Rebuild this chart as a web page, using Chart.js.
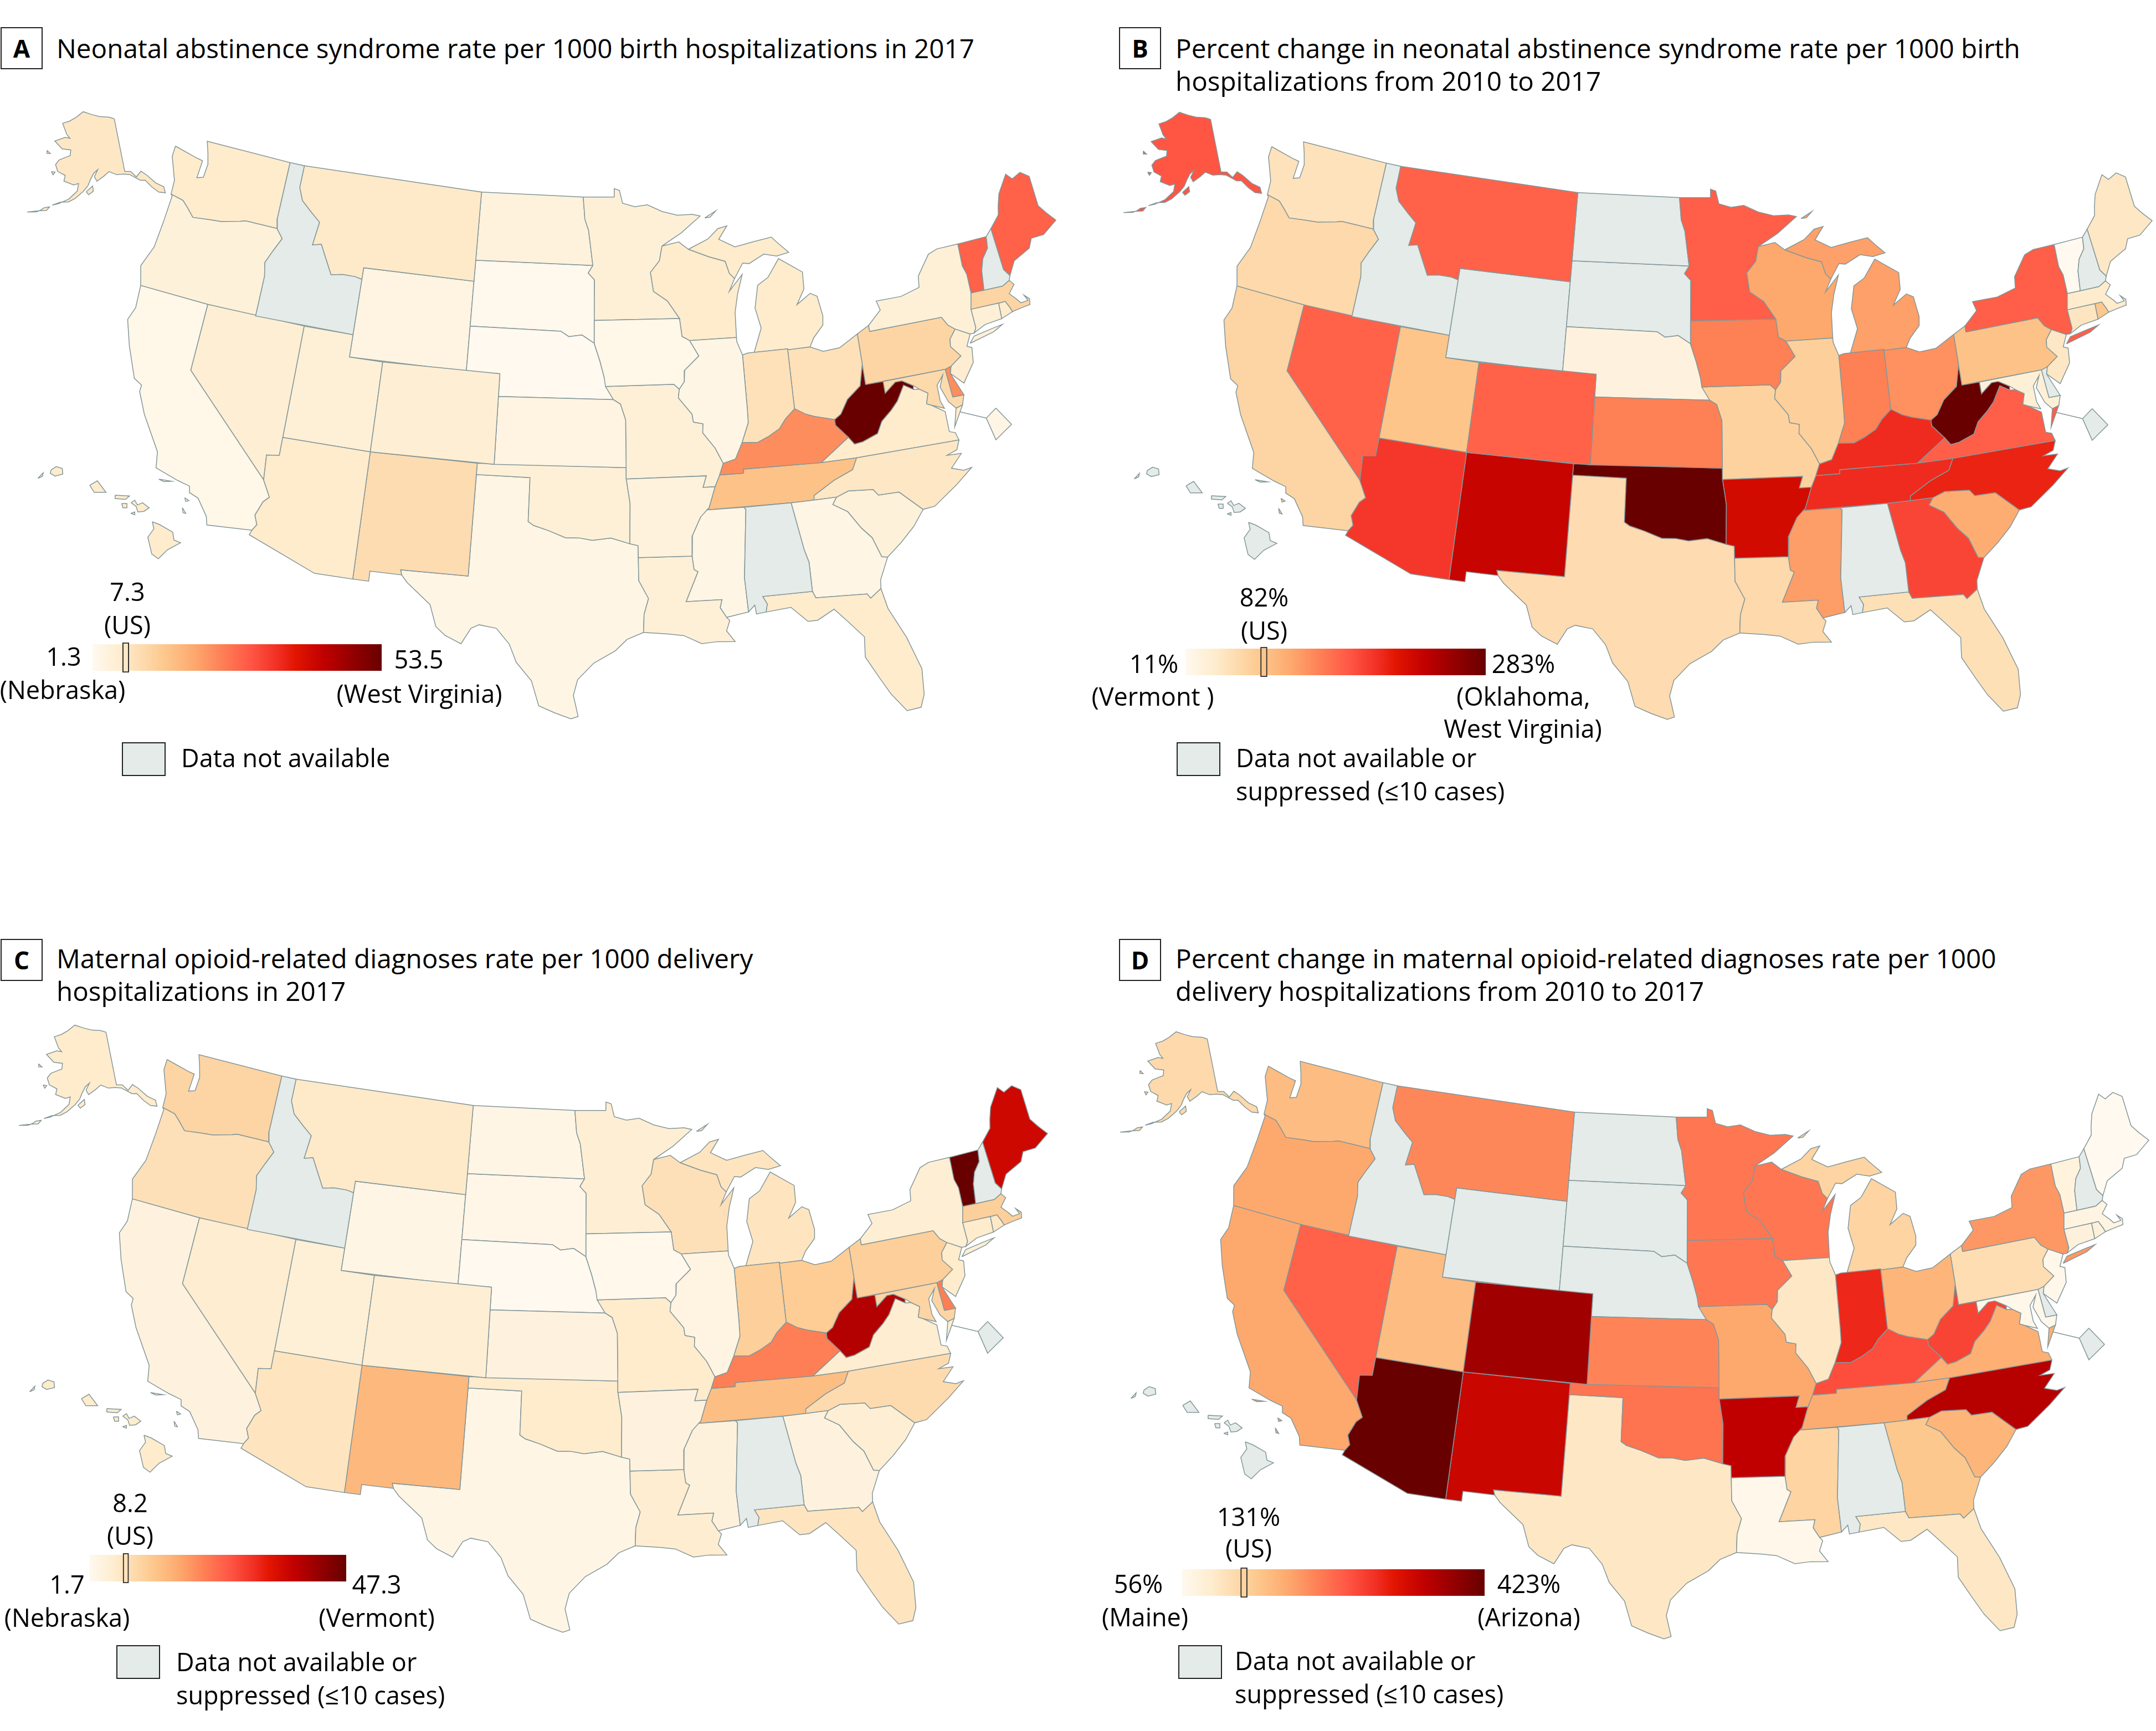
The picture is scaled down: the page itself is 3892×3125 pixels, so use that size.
<!DOCTYPE html>
<html>
<head>
<meta charset="utf-8">
<title>Neonatal abstinence syndrome and maternal opioid-related diagnoses</title>
<script src="https://cdn.jsdelivr.net/npm/chart.js@4/dist/chart.umd.min.js"></script>
<style>
  html, body { margin: 0; padding: 0; background: #fff; }
  #page { position: relative; width: 3892px; height: 3125px; overflow: hidden; font-family: "Open Sans", sans-serif; color: #000; }
  #page canvas { position: absolute; }
  .t { position: absolute; font-size: 45px; line-height: 60px; white-space: nowrap; }
  .h { font-size: 47.6px; }
  .c { transform: translateX(-50%); }
  .tag { position: absolute; width: 72px; height: 72px; border: 2px solid #222; font-weight: 700; font-size: 44px; line-height: 72px; text-align: center; background: #fff; }
  .na { position: absolute; width: 75px; height: 57px; border: 2px solid #222; background: #e4ebe8; }
</style>
</head>
<body>
<div id="page"></div>
<script>
// state order used by all four value lists
const states = ["Alabama","Alaska","Arizona","Arkansas","California","Colorado","Connecticut","Delaware","District of Columbia","Florida","Georgia","Hawaii","Idaho","Illinois","Indiana","Iowa","Kansas","Kentucky","Louisiana","Maine","Maryland","Massachusetts","Michigan","Minnesota","Mississippi","Missouri","Montana","Nebraska","Nevada","New Hampshire","New Jersey","New Mexico","New York","North Carolina","North Dakota","Ohio","Oklahoma","Oregon","Pennsylvania","Rhode Island","South Carolina","South Dakota","Tennessee","Texas","Utah","Vermont","Virginia","Washington","West Virginia","Wisconsin","Wyoming"];

// values read from the colours, null = grey (not available / suppressed)
const nasRate2017 = [null,7.5,6.5,4,2.3,5.5,5,23,3,6.5,3,6.5,null,2.8,9,2.3,3.4,23,5,28.5,10.5,11.5,6.5,5,3,5,7,1.3,5.5,null,6,10,5,7.5,4,9,5,4.5,11.5,6.5,4.5,1.8,15.4,3,5,28.5,6.5,6.5,53.5,6.5,3.4];
const nasChange = [null,160,180,215,65,152,46,null,null,52,171,null,null,71,133,133,133,188,60,44,30,38,112,155,114,68,152,25,152,null,44,223,155,193,null,122,283,60,84,79,103,null,188,57,82,11,155,49,283,106,null];
const momRate2017 = [null,6.3,7.6,4,4,5.3,6.3,22.2,null,7.6,4,6.3,null,3.5,11.7,2.2,4,22.2,5.8,36.4,10.8,11.7,7.6,5.3,4.4,6.3,6.7,1.7,5.8,null,6.3,15.4,5.3,9.5,3,12.2,6.3,8.5,11.7,7,5.3,2.6,14.5,3,4.9,47.3,5.8,10.8,39.5,8.5,3];
const momChange = [null,122,423,350,184,375,78,null,null,100,148,null,null,100,298,228,217,265,63,56,63,71,130,228,130,184,214,null,247,null,63,339,199,357,null,170,232,184,115,78,170,null,181,100,162,74,177,162,273,228,null];

// colour scale, position 0..1 along the legend bar
const rampStops = [0,0.1,0.25,0.35,0.45,0.55,0.65,0.7,0.8,0.9,1];
const rampColors = [[255,249,239],[254,236,205],[253,200,141],[253,169,110],[254,127,85],[255,85,68],[239,43,31],[226,21,0],[192,0,0],[147,0,0],[104,0,0]];
const naColor = "#e4ebe8";
const lineColor = "#84979a";

// state outlines, longitude / latitude
const shapes = {
  Washington: [[[-124.7,48.38],[-123.15,48.15],[-122.7,48.1],[-122.75,47.3],[-122.35,47.4],[-122.3,48],[-122.5,48.5],[-122.76,49],[-117.03,49],[-117.04,46.42],[-116.92,45.99],[-118.98,46],[-119.3,45.93],[-120.5,45.7],[-121.2,45.65],[-122.3,45.55],[-122.8,45.9],[-123.2,46.15],[-124.05,46.27],[-124.1,46.9],[-124.7,47.9]]],
  Oregon: [[[-124.05,46.27],[-123.2,46.15],[-122.8,45.9],[-122.3,45.55],[-121.2,45.65],[-120.5,45.7],[-119.3,45.93],[-118.98,46],[-116.92,45.99],[-116.46,45.6],[-116.85,45],[-117.2,44.4],[-117.03,43.8],[-117.03,42],[-120,42],[-124.2,42],[-124.55,42.84],[-124.1,43.8],[-124,45],[-123.95,46.2]]],
  California: [
    [[-124.2,42],[-120,42],[-120,39],[-114.63,35],[-114.14,34.3],[-114.43,34.05],[-114.72,33.4],[-114.52,33],[-114.72,32.72],[-117.12,32.53],[-117.25,32.9],[-117.9,33.6],[-118.4,33.75],[-118.5,34.03],[-119.2,34.15],[-120.5,34.45],[-120.65,35.15],[-121.9,36.6],[-122.5,37.5],[-122.5,37.8],[-123,38],[-123.8,39.3],[-124.35,40.4],[-124.1,41]],
    [[-120.2,34],[-119.5,34.05],[-119.9,33.95]],
    [[-118.6,33.48],[-118.35,33.4],[-118.5,33.33]],
    [[-118.6,33.03],[-118.35,32.82],[-118.5,32.82]]
  ],
  Nevada: [[[-120,42],[-114.04,42],[-114.04,36.2],[-114.74,36.1],[-114.63,35],[-120,39]]],
  Idaho: [[[-117.03,49],[-116.05,49],[-116.05,48],[-115.7,47.45],[-114.95,47],[-114.33,46.65],[-114.5,45.6],[-113.95,45.7],[-113.45,45.05],[-113,44.45],[-112.3,44.55],[-111.5,44.55],[-111.05,44.48],[-111.05,42],[-117.03,42],[-117.03,43.8],[-117.2,44.4],[-116.85,45],[-116.46,45.6],[-116.92,45.99],[-117.04,46.42]]],
  Montana: [[[-116.05,49],[-104.05,49],[-104.05,45],[-111.05,45],[-111.05,44.48],[-111.5,44.55],[-112.3,44.55],[-113,44.45],[-113.45,45.05],[-113.95,45.7],[-114.5,45.6],[-114.33,46.65],[-114.95,47],[-115.7,47.45],[-116.05,48]]],
  Wyoming: [[[-111.05,45],[-104.05,45],[-104.05,41],[-111.05,41]]],
  Utah: [[[-114.04,42],[-111.05,42],[-111.05,41],[-109.05,41],[-109.05,37],[-114.04,37]]],
  Colorado: [[[-109.05,41],[-102.05,41],[-102.05,37],[-109.05,37]]],
  Arizona: [[[-114.04,37],[-109.05,37],[-109.05,31.33],[-111.07,31.33],[-114.81,32.5],[-114.72,32.72],[-114.52,33],[-114.72,33.4],[-114.43,34.05],[-114.14,34.3],[-114.63,35],[-114.74,36.1],[-114.04,36.2]]],
  "New Mexico": [[[-109.05,37],[-103,37],[-103.04,32],[-106.62,32],[-106.53,31.78],[-108.21,31.78],[-108.21,31.33],[-109.05,31.33]]],
  "North Dakota": [[[-104.05,49],[-97.23,49],[-97.1,48],[-96.85,47.5],[-96.56,45.94],[-104.05,45.94]]],
  "South Dakota": [[[-104.05,45.94],[-96.56,45.94],[-96.85,45.6],[-96.45,45.3],[-96.45,43.5],[-96.45,42.49],[-97.2,42.85],[-98,42.77],[-98.5,43],[-104.05,43]]],
  Nebraska: [[[-104.05,43],[-98.5,43],[-98,42.77],[-97.2,42.85],[-96.45,42.49],[-96.1,41.7],[-95.85,41],[-95.31,40],[-102.05,40],[-102.05,41],[-104.05,41]]],
  Kansas: [[[-102.05,40],[-95.31,40],[-94.9,39.8],[-94.61,39.1],[-94.62,37],[-102.05,37]]],
  Oklahoma: [[[-103,37],[-94.62,37],[-94.62,36.5],[-94.43,35.4],[-94.48,33.64],[-95.5,33.9],[-96.5,33.8],[-97.2,33.9],[-97.95,33.9],[-98.9,34.2],[-99.7,34.4],[-100,34.56],[-100,36.5],[-103,36.5]]],
  Texas: [[[-106.62,32],[-103.04,32],[-103,36.5],[-100,36.5],[-100,34.56],[-99.7,34.4],[-98.9,34.2],[-97.95,33.9],[-97.2,33.9],[-96.5,33.8],[-95.5,33.9],[-94.48,33.64],[-94.04,33.55],[-94.04,32],[-93.55,31.2],[-93.8,30.5],[-93.85,29.7],[-94.7,29.4],[-95.3,28.9],[-96.4,28.35],[-97.2,27.6],[-97.4,26.9],[-97.15,25.96],[-97.5,25.85],[-98.3,26.1],[-99.1,26.4],[-99.5,27.5],[-100.3,28.3],[-100.7,29.1],[-101.4,29.77],[-102.3,29.88],[-102.7,29.7],[-103.15,28.98],[-104,29.3],[-104.5,29.65],[-104.9,30.6],[-106.2,31.47],[-106.53,31.78]]],
  Minnesota: [[[-97.23,49],[-95.15,49],[-95.15,49.38],[-94.8,49.3],[-94.6,48.72],[-93.8,48.55],[-92.95,48.62],[-92,48.3],[-91,48.1],[-90,48.1],[-89.5,48],[-90.8,47.3],[-92.1,46.75],[-92.3,46.1],[-92.9,45.6],[-92.75,44.75],[-91.9,44.3],[-91.2,43.5],[-96.45,43.5],[-96.45,45.3],[-96.85,45.6],[-96.56,45.94],[-96.85,47.5],[-97.1,48]]],
  Iowa: [[[-96.45,43.5],[-91.2,43.5],[-91.1,42.7],[-90.65,42.5],[-90.15,41.8],[-91.05,41.2],[-91.1,40.7],[-91.42,40.38],[-91.73,40.61],[-95.77,40.58],[-95.85,41],[-96.1,41.7],[-96.45,42.49]]],
  Missouri: [[[-95.77,40.58],[-91.73,40.61],[-91.42,40.38],[-91.5,40],[-90.75,39.25],[-90.7,38.9],[-90.15,38.8],[-90.2,38.4],[-89.55,37.7],[-89.15,37],[-89.4,36.5],[-89.7,36],[-90.37,36],[-90.15,36.5],[-94.62,36.5],[-94.62,37],[-94.61,39.1],[-94.9,39.8],[-95.31,40]]],
  Arkansas: [[[-94.62,36.5],[-90.15,36.5],[-90.37,36],[-89.7,36],[-90.1,35.1],[-90.6,34.7],[-91.1,33.9],[-91.17,33],[-94.04,33.02],[-94.04,33.55],[-94.48,33.64],[-94.43,35.4]]],
  Louisiana: [[[-94.04,33.02],[-91.17,33],[-91.1,32.4],[-90.9,32.3],[-91.6,31],[-89.73,31],[-89.85,30.65],[-89.55,30.2],[-89.4,30.05],[-89.6,29.6],[-89.2,29.1],[-90.1,29.15],[-90.9,29.1],[-91.8,29.5],[-92.6,29.6],[-93.85,29.7],[-93.8,30.5],[-93.55,31.2],[-94.04,32]]],
  Mississippi: [[[-90.3,35],[-88.2,35],[-88.1,34.9],[-88.47,31.9],[-88.4,30.37],[-89.55,30.2],[-89.85,30.65],[-89.73,31],[-91.6,31],[-90.9,32.3],[-91.1,32.4],[-91.17,33],[-91.1,33.9],[-90.6,34.7]]],
  Alabama: [[[-88.2,35],[-85.6,35],[-85.18,32.87],[-85,32.3],[-85,31],[-87.6,31],[-87.4,30.65],[-87.5,30.3],[-88,30.25],[-88.05,30.65],[-88.4,30.37],[-88.47,31.9],[-88.1,34.9]]],
  Tennessee: [[[-90.3,35],[-90.1,35.1],[-89.7,36],[-89.4,36.5],[-88.07,36.5],[-88.05,36.68],[-83.68,36.6],[-81.68,36.59],[-82,36.1],[-83.1,35.75],[-84.3,35.2],[-84.32,35],[-85.6,35]]],
  Kentucky: [[[-89.4,36.5],[-89.15,37],[-88.45,37.15],[-88,37.85],[-87.1,37.8],[-86.5,38],[-85.8,38.3],[-85.4,38.7],[-84.8,39.1],[-84.2,38.8],[-83.7,38.65],[-82.6,38.4],[-82.6,38.15],[-81.97,37.54],[-83.68,36.6],[-88.05,36.68],[-88.07,36.5]]],
  Illinois: [[[-87.8,42.49],[-90.65,42.5],[-90.15,41.8],[-91.05,41.2],[-91.1,40.7],[-91.42,40.38],[-91.5,40],[-90.75,39.25],[-90.7,38.9],[-90.15,38.8],[-90.2,38.4],[-89.55,37.7],[-89.15,37],[-88.45,37.15],[-88,37.85],[-87.55,38.7],[-87.53,39.35],[-87.53,41.7],[-87.8,42.3]]],
  Indiana: [[[-87.53,41.7],[-87.2,41.76],[-84.8,41.76],[-84.81,39.1],[-85.4,38.7],[-85.8,38.3],[-86.5,38],[-87.1,37.8],[-88,37.85],[-87.55,38.7],[-87.53,39.35]]],
  Ohio: [[[-84.8,41.72],[-83.45,41.72],[-82.7,41.45],[-81.7,41.5],[-80.52,41.98],[-80.52,40.64],[-80.85,39.7],[-81.7,39.2],[-82.2,38.6],[-82.6,38.4],[-83.7,38.65],[-84.2,38.8],[-84.81,39.1]]],
  Michigan: [
    [[-86.82,41.76],[-84.8,41.76],[-84.8,41.72],[-83.45,41.72],[-83.15,42.1],[-82.5,42.6],[-82.42,43],[-82.6,43.9],[-83,44.07],[-83.9,43.65],[-83.35,44.3],[-83.3,45.05],[-84.7,45.78],[-85.5,45],[-86.2,44.7],[-86.5,43.7],[-86.25,42.8]],
    [[-90.4,46.55],[-89.1,46.95],[-88.4,47.38],[-87.8,47.47],[-88.4,46.9],[-87.4,46.5],[-86.2,46.65],[-85,46.77],[-84.6,46.45],[-84,46],[-84.8,45.9],[-85.6,46.05],[-86.6,45.7],[-87,45.75],[-87.6,45.1],[-87.9,45.35],[-88.1,45.9],[-89.1,46.15]],
    [[-89.2,47.9],[-88.45,48.18],[-88.85,47.92]]
  ],
  Wisconsin: [[[-92.1,46.75],[-91,46.9],[-90.4,46.55],[-89.1,46.15],[-88.1,45.9],[-87.9,45.35],[-87.6,45.1],[-88,44.55],[-87.1,45.25],[-87.5,44.4],[-87.75,43.6],[-87.8,42.49],[-90.65,42.5],[-91.1,42.7],[-91.2,43.5],[-91.9,44.3],[-92.75,44.75],[-92.9,45.6],[-92.3,46.1]]],
  Pennsylvania: [[[-80.52,41.98],[-79.76,42.27],[-79.76,42],[-75.35,42],[-75.07,41.6],[-74.7,41.36],[-75.13,40.98],[-75.2,40.65],[-74.72,40.15],[-75.42,39.8],[-75.79,39.72],[-80.52,39.72]]],
  "New York": [
    [[-79.76,42],[-79.76,42.27],[-78.9,42.85],[-79.05,43.27],[-77.5,43.27],[-76.3,43.5],[-76.2,44],[-75.3,44.85],[-74.7,45],[-73.35,45],[-73.4,44],[-73.25,43.6],[-73.27,42.75],[-73.5,42.05],[-73.48,41.2],[-73.65,41],[-73.9,41],[-74.7,41.36],[-75.07,41.6],[-75.35,42]],
    [[-74.02,40.6],[-72.5,40.85],[-71.9,41.07],[-72.6,41],[-73.7,40.87]]
  ],
  Vermont: [[[-73.35,45],[-71.5,45.01],[-71.6,44.5],[-72.05,44.1],[-72.3,43.6],[-72.46,42.73],[-73.27,42.75],[-73.25,43.6],[-73.4,44]]],
  "New Hampshire": [[[-71.5,45.01],[-71.08,45.3],[-70.98,43.4],[-70.7,43.07],[-70.82,42.87],[-71.3,42.7],[-72.46,42.73],[-72.3,43.6],[-72.05,44.1],[-71.6,44.5]]],
  Maine: [[[-71.08,45.3],[-70.4,45.8],[-70.25,46.2],[-70,46.7],[-69.23,47.46],[-68.9,47.18],[-68.3,47.36],[-67.8,47.07],[-67.8,45.7],[-67.45,45.3],[-67,44.85],[-68,44.4],[-68.8,44.4],[-69.1,44],[-70.2,43.65],[-70.7,43.07],[-70.98,43.4]]],
  Massachusetts: [[[-73.5,42.05],[-73.27,42.75],[-72.46,42.73],[-71.3,42.7],[-70.82,42.87],[-70.6,42.65],[-71.03,42.3],[-70.65,41.95],[-70.5,41.78],[-70.05,41.8],[-70.2,42.07],[-69.93,41.85],[-70,41.6],[-70.65,41.55],[-71.12,41.5],[-71.2,41.7],[-71.38,42.02],[-71.8,42.02]]],
  "Rhode Island": [[[-71.8,42.02],[-71.38,42.02],[-71.2,41.7],[-71.12,41.5],[-71.85,41.32]]],
  Connecticut: [[[-73.5,42.05],[-71.8,42.02],[-71.85,41.32],[-72.9,41.25],[-73.65,41],[-73.48,41.2]]],
  "New Jersey": [[[-74.7,41.36],[-73.9,41],[-74.25,40.5],[-73.98,40.4],[-74.1,39.75],[-74.9,38.95],[-75.55,39.5],[-75.42,39.8],[-74.72,40.15],[-75.2,40.65],[-75.13,40.98]]],
  Delaware: [[[-75.79,39.72],[-75.42,39.8],[-75.55,39.5],[-75.05,38.45],[-75.7,38.46]]],
  Maryland: [[[-79.48,39.72],[-75.79,39.72],[-75.7,38.46],[-75.05,38.45],[-75.25,38.03],[-75.65,37.95],[-76,38.3],[-76.3,39],[-76,39.5],[-76.45,39.1],[-76.45,38.4],[-76.3,38.05],[-77,38.3],[-77.25,38.4],[-77.05,38.85],[-77.5,39.1],[-77.8,39.3],[-78.4,39.6],[-78.8,39.6],[-79.48,39.2]]],
  Virginia: [
    [[-83.68,36.6],[-81.97,37.54],[-81.68,37.2],[-81.2,37.25],[-80.3,37.5],[-79.95,38],[-79.3,38.42],[-78.87,38.76],[-78.35,39.4],[-77.83,39.13],[-77.5,39.1],[-77.05,38.85],[-77.25,38.4],[-77,38.3],[-76.3,37.9],[-76.3,37.5],[-76.3,37],[-75.98,36.9],[-75.87,36.55],[-81.68,36.59]],
    [[-75.65,37.95],[-75.25,38.03],[-75.95,37.15]]
  ],
  "West Virginia": [[[-80.52,40.64],[-80.52,39.72],[-79.48,39.72],[-79.48,39.2],[-78.8,39.6],[-78.4,39.6],[-77.8,39.3],[-77.83,39.13],[-78.35,39.4],[-78.87,38.76],[-79.3,38.42],[-79.95,38],[-80.3,37.5],[-81.2,37.25],[-81.68,37.2],[-81.97,37.54],[-82.6,38.15],[-82.6,38.4],[-82.2,38.6],[-81.7,39.2],[-80.85,39.7]]],
  "North Carolina": [[[-81.68,36.59],[-75.87,36.55],[-76.1,36.15],[-76.7,36],[-75.9,35.95],[-76.6,35.4],[-75.95,35.2],[-75.5,35.25],[-76.5,34.65],[-77.9,33.9],[-78.55,33.86],[-79.67,34.8],[-80.8,34.82],[-81.05,35.1],[-82.4,35.2],[-83.1,35],[-84.32,35],[-84.3,35.2],[-83.1,35.75],[-82,36.1]]],
  "South Carolina": [[[-83.1,35],[-82.4,35.2],[-81.05,35.1],[-80.8,34.82],[-79.67,34.8],[-78.55,33.86],[-79.2,33.2],[-80,32.6],[-80.85,32.05],[-81.15,32.1],[-81.5,33],[-82,33.5],[-82.6,34.3],[-83.35,34.7]]],
  Georgia: [[[-85.6,35],[-84.32,35],[-83.1,35],[-83.35,34.7],[-82.6,34.3],[-82,33.5],[-81.5,33],[-81.15,32.1],[-80.85,32.05],[-81.4,31.1],[-81.45,30.72],[-82.05,30.36],[-82.2,30.57],[-84.86,30.7],[-85,31],[-85,32.3],[-85.18,32.87]]],
  Florida: [[[-87.6,31],[-85,31],[-84.86,30.7],[-82.2,30.57],[-82.05,30.36],[-81.45,30.72],[-81.25,29.8],[-80.55,28.4],[-80.05,26.9],[-80.15,25.75],[-80.4,25.2],[-81.1,25.15],[-81.75,26],[-82.2,26.8],[-82.75,27.8],[-82.65,28.7],[-83.4,29.5],[-84,30.1],[-84.9,29.7],[-85.4,29.7],[-86.2,30.4],[-87.5,30.3],[-87.4,30.65]]]
};
const alaskaRings = [
  [[-141,69.65],[-143.5,70.1],[-148,70.4],[-152,70.85],[-156.6,71.35],[-160,70.3],[-163,69.5],[-166.2,68.9],[-163.5,67.1],[-161.9,66.5],[-164,66.55],[-168.1,65.6],[-164.5,64.5],[-161,64.5],[-161,63.5],[-163,63.05],[-165,62.5],[-166,61.6],[-164.8,60.5],[-162,60],[-162.2,59],[-158.8,58.5],[-157.2,58.8],[-157.5,57.5],[-160,56],[-163,55],[-164.8,54.6],[-162.5,55.3],[-160,55.5],[-158,56.2],[-155.5,57.5],[-154,58.5],[-153.2,59.5],[-152,60.6],[-150.5,61.2],[-151.8,60],[-151,59.2],[-148.5,60],[-146.5,60.7],[-144,60],[-141.5,59.9],[-139.5,59.6],[-136.5,58.2],[-135,58],[-133.5,56.5],[-132,55.3],[-130.2,54.8],[-130,55.9],[-132,57],[-134,58.8],[-135.5,59.7],[-137.5,58.95],[-139,60.1],[-141,60.3]],
  [[-154.6,57.4],[-152.5,58.4],[-152.3,57.5],[-153.8,56.9]],
  [[-170.3,63.7],[-168.8,63.3],[-170,63.2]],
  [[-167,60.3],[-165.7,60.3],[-166.2,59.8]],
  [[-167,53.9],[-165.5,54.2],[-166.2,53.5],[-168.3,53.2],[-171.5,52.5],[-169,52.9],[-168,53.3]]
];
const hawaiiRings = [
  [[-155.88,20.25],[-155.6,20.15],[-155.1,19.88],[-155.05,19.6],[-154.8,19.5],[-155.3,19.25],[-155.65,18.93],[-155.9,19.1],[-156.05,19.7],[-155.82,20]],
  [[-156.69,20.93],[-156.55,21.02],[-156.45,20.85],[-156.25,20.93],[-156,20.75],[-156.2,20.62],[-156.43,20.6],[-156.5,20.8]],
  [[-157.3,21.2],[-156.75,21.17],[-156.9,21.05],[-157.3,21.08]],
  [[-157.05,20.9],[-156.85,20.9],[-156.85,20.75],[-157,20.75]],
  [[-156.7,20.55],[-156.55,20.6],[-156.55,20.5]],
  [[-158.27,21.55],[-157.98,21.71],[-157.65,21.3],[-157.9,21.3],[-158.1,21.3]],
  [[-159.75,22.1],[-159.55,22.22],[-159.32,22.15],[-159.3,21.95],[-159.6,21.88],[-159.78,21.98]],
  [[-160.25,21.8],[-160.05,22],[-160.08,21.87]]
];
const dcRing = [[-77.04,38.995],[-76.91,38.89],[-77.04,38.79],[-77.12,38.93]];
const dcLeaderFrom = [-75.6,37.8];

// Albers conic, result in earth radii
function albersMaker(p1, p2, lon0, lat0) {
  const rad = Math.PI / 180;
  const n = (Math.sin(p1 * rad) + Math.sin(p2 * rad)) / 2;
  const C = Math.cos(p1 * rad) ** 2 + 2 * n * Math.sin(p1 * rad);
  const rho = lat => Math.sqrt(C - 2 * n * Math.sin(lat * rad)) / n;
  const rho0 = rho(lat0);
  return ([lon, lat]) => {
    const th = n * (lon - lon0) * rad;
    return { x: rho(lat) * Math.sin(th), y: rho0 - rho(lat) * Math.cos(th) };
  };
}
const usProj = albersMaker(29.5, 45.5, -96, 37.5);
const akProj = albersMaker(55, 65, -154, 50);
const mapScale = 2325; // px per earth radius on the mainland

function akPoint(pt) {
  const p = akProj(pt);
  return { x: (-927 + 595 * p.x) / mapScale, y: (401 + 595 * p.y) / mapScale };
}
function hiPoint([lon, lat]) {
  const k = 2900 * Math.PI / 180;
  return { x: (-864 + k * 0.933 * (lon + 157)) / mapScale, y: (-80 + k * (lat - 21)) / mapScale };
}
function dcPoint([lon, lat]) {
  const k = 16000 * Math.PI / 180;
  return { x: (714 + k * 0.777 * (lon + 77.03)) / mapScale, y: (58 + k * (lat - 38.89)) / mapScale };
}

function rampColor(t) {
  t = Math.max(0, Math.min(1, t));
  let i = 0;
  while (i < rampStops.length - 2 && t > rampStops[i + 1]) i++;
  const f = (t - rampStops[i]) / (rampStops[i + 1] - rampStops[i]);
  const c = rampColors[i].map((v, k) => Math.round(v + (rampColors[i + 1][k] - v) * f));
  return `rgb(${c[0]},${c[1]},${c[2]})`;
}

const panels = [
  { tag: "A", values: nasRate2017, min: 1.3, max: 53.5, us: 7.3, x0: 1086, y0: 824, box: [0, 150, 1960, 1200],
    tagPos: [1, 49], titleX: 102, titleY: [57], title: ["Neonatal abstinence syndrome rate per 1000 birth hospitalizations in 2017"],
    bar: [167, 1163, 522, 48],
    labels: [["7.3", 230, 1038], ["(US)", 230, 1098], ["1.3", 115, 1155], ["(Nebraska)", 113, 1215], ["53.5", 756, 1160], ["(West Virginia)", 757, 1222]],
    naBox: [220, 1340], naX: 327, naY: [1338], na: ["Data not available"] },
  { tag: "B", values: nasChange, min: 11, max: 283, us: 82, x0: 3065, y0: 825, box: [1960, 150, 1932, 1200],
    tagPos: [2020, 49], titleX: 2122, titleY: [57, 116], title: ["Percent change in neonatal abstinence syndrome rate per 1000 birth", "hospitalizations from 2010 to 2017"],
    bar: [2140, 1171, 542, 48],
    labels: [["82%", 2282, 1048], ["(US)", 2282, 1108], ["11%", 2083, 1168], ["(Vermont )", 2081, 1227], ["283%", 2750, 1168], ["(Oklahoma,", 2750, 1227], ["West Virginia)", 2749, 1285]],
    naBox: [2124, 1340], naX: 2231, naY: [1338, 1398], na: ["Data not available or", "suppressed (≤10 cases)"] },
  { tag: "C", values: momRate2017, min: 1.7, max: 47.3, us: 8.2, x0: 1071, y0: 2473, box: [0, 1800, 1960, 1200],
    tagPos: [1, 1695], titleX: 102, titleY: [1700, 1759], title: ["Maternal opioid-related diagnoses rate per 1000 delivery", "hospitalizations in 2017"],
    bar: [161, 2807, 464, 48],
    labels: [["8.2", 235, 2683], ["(US)", 235, 2742], ["1.7", 121, 2830], ["(Nebraska)", 121, 2890], ["47.3", 680, 2830], ["(Vermont)", 680, 2890]],
    naBox: [210, 2970], naX: 318, naY: [2970, 3030], na: ["Data not available or", "suppressed (≤10 cases)"] },
  { tag: "D", values: momChange, min: 56, max: 423, us: 131, x0: 3059, y0: 2485, box: [1960, 1800, 1932, 1200],
    tagPos: [2020, 1695], titleX: 2122, titleY: [1700, 1759], title: ["Percent change in maternal opioid-related diagnoses rate per 1000", "delivery hospitalizations from 2010 to 2017"],
    bar: [2134, 2833, 546, 48],
    labels: [["131%", 2254, 2708], ["(US)", 2254, 2765], ["56%", 2055, 2829], ["(Maine)", 2067, 2889], ["423%", 2760, 2829], ["(Arizona)", 2760, 2889]],
    naBox: [2127, 2970], naX: 2229, naY: [2968, 3028], na: ["Data not available or", "suppressed (≤10 cases)"] }
];

const page = document.getElementById("page");

function addText(str, x, y, cls) {
  const d = document.createElement("div");
  d.className = "t " + (cls || "");
  d.style.left = x + "px";
  d.style.top = y + "px";
  d.textContent = str;
  page.appendChild(d);
}

function addCanvas(x, y, w, h) {
  const c = document.createElement("canvas");
  c.width = w; c.height = h;
  c.style.left = x + "px"; c.style.top = y + "px";
  c.style.width = w + "px"; c.style.height = h + "px";
  page.appendChild(c);
  return c.getContext("2d");
}

function stateDataset(points, color) {
  return {
    data: points.concat([points[0]]),
    showLine: true,
    fill: "shape",
    backgroundColor: color,
    borderColor: lineColor,
    borderWidth: 1.5,
    pointRadius: 0,
    tension: 0,
    clip: false
  };
}

function drawMap(p) {
  const [L, T, W, H] = p.box;
  const datasets = [];
  states.forEach((name, i) => {
    const v = p.values[i];
    const color = v === null ? naColor : rampColor((v - p.min) / (p.max - p.min));
    let rings;
    if (name === "Alaska") rings = alaskaRings.map(r => r.map(akPoint));
    else if (name === "Hawaii") rings = hawaiiRings.map(r => r.map(hiPoint));
    else if (name === "District of Columbia") rings = [dcRing.map(dcPoint)];
    else rings = shapes[name].map(r => r.map(usProj));
    rings.forEach(r => datasets.push(stateDataset(r, color)));
  });
  // leader line from the coast to the DC inset
  datasets.push({
    data: [usProj(dcLeaderFrom), dcPoint(dcRing[3])],
    showLine: true, fill: false, borderColor: lineColor, borderWidth: 1.5, pointRadius: 0, clip: false
  });
  new Chart(addCanvas(L, T, W, H), {
    type: "scatter",
    data: { datasets },
    options: {
      responsive: false,
      animation: false,
      events: [],
      layout: { padding: 0 },
      plugins: { legend: { display: false }, tooltip: { enabled: false } },
      scales: {
        x: { type: "linear", display: false, min: (L - p.x0) / mapScale, max: (L + W - p.x0) / mapScale },
        y: { type: "linear", display: false, min: (p.y0 - T - H) / mapScale, max: (p.y0 - T) / mapScale }
      }
    }
  });
}

function drawLegendBar(p) {
  const [x, y, w, h] = p.bar;
  const half = (p.max - p.min) * 0.011;
  new Chart(addCanvas(x, y - 3, w, h + 6), {
    type: "bar",
    data: {
      labels: ["scale"],
      datasets: [
        {
          data: [[p.us - half, p.us + half]],
          backgroundColor: rampColor((p.us - p.min) / (p.max - p.min)),
          borderColor: "#2b2b2b", borderWidth: 2, borderSkipped: false,
          barPercentage: 1, categoryPercentage: 1, order: 0
        },
        {
          data: [[p.min, p.max]],
          backgroundColor: ctx => {
            const a = ctx.chart.chartArea;
            if (!a) return "#fff";
            const g = ctx.chart.ctx.createLinearGradient(a.left, 0, a.right, 0);
            rampStops.forEach(s => g.addColorStop(s, rampColor(s)));
            return g;
          },
          borderWidth: 0,
          barPercentage: 0.89, categoryPercentage: 1, order: 1
        }
      ]
    },
    options: {
      indexAxis: "y",
      responsive: false,
      animation: false,
      events: [],
      layout: { padding: 0 },
      plugins: { legend: { display: false }, tooltip: { enabled: false } },
      scales: {
        x: { type: "linear", display: false, min: p.min, max: p.max },
        y: { display: false, stacked: false }
      },
      datasets: { bar: { grouped: false } }
    }
  });
}

panels.forEach(p => {
  drawMap(p);
  drawLegendBar(p);

  const tag = document.createElement("div");
  tag.className = "tag";
  tag.style.left = p.tagPos[0] + "px";
  tag.style.top = p.tagPos[1] + "px";
  tag.textContent = p.tag;
  page.appendChild(tag);

  p.title.forEach((line, i) => addText(line, p.titleX, p.titleY[i], "h"));
  p.labels.forEach(l => addText(l[0], l[1], l[2], "c"));

  const box = document.createElement("div");
  box.className = "na";
  box.style.left = p.naBox[0] + "px";
  box.style.top = p.naBox[1] + "px";
  page.appendChild(box);
  p.na.forEach((line, i) => addText(line, p.naX, p.naY[i]));
});
</script>
</body>
</html>
